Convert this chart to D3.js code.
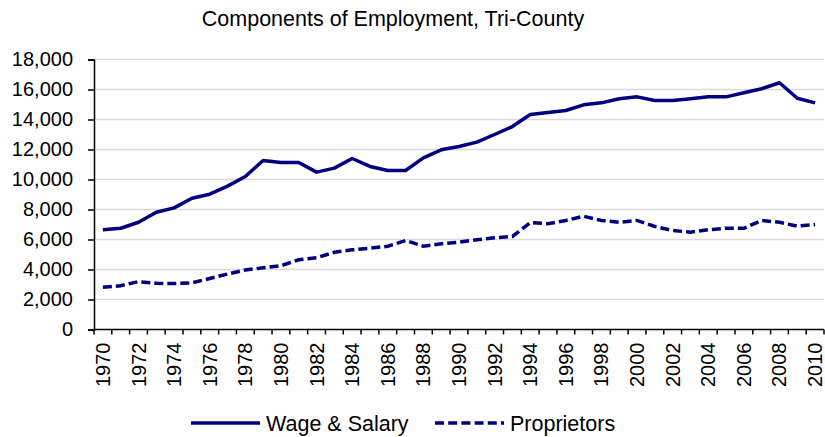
<!DOCTYPE html>
<html>
<head>
<meta charset="utf-8">
<script src="https://cdn.jsdelivr.net/npm/d3@7"></script>
<style>
  body { margin: 0; background: #fff; }
  text { font-family: "Liberation Sans", Arial, sans-serif; fill: #000; }
</style>
</head>
<body>
<svg id="chart" width="825" height="437"></svg>
<script>
// Data (thousands of jobs)
const years = d3.range(1970, 2011);
const wageSalary = [6650, 6750, 7150, 7820, 8110, 8750, 9020, 9560, 10200, 11270,
  11130, 11130, 10490, 10760, 11400, 10870, 10600, 10600, 11440, 11980,
  12200, 12490, 13000, 13530, 14330, 14470, 14600, 14980, 15110, 15380,
  15510, 15270, 15270, 15380, 15510, 15510, 15780, 16050, 16450, 15420, 15110];
const proprietors = [2810, 2920, 3190, 3080, 3060, 3110, 3400, 3700, 3970, 4110,
  4250, 4650, 4780, 5150, 5310, 5420, 5550, 5930, 5550, 5710,
  5820, 5980, 6110, 6200, 7130, 7050, 7270, 7550, 7270, 7150,
  7270, 6870, 6600, 6490, 6650, 6750, 6750, 7270, 7150, 6890, 7000];
const yTicks = d3.range(0, 18001, 2000);
const seriesNames = ["Wage & Salary", "Proprietors"];

const navy = "#000080";
const svg = d3.select("#chart");

// Plot area
const plot = { left: 94, right: 824, top: 59.5, bottom: 329.5 };

const x = d3.scaleBand().domain(years).range([plot.left, plot.right]).padding(0);
const y = d3.scaleLinear().domain([0, 18000]).range([plot.bottom, plot.top]);

// Title
svg.append("text")
  .attr("x", 393)
  .attr("y", 26)
  .attr("text-anchor", "middle")
  .style("font-size", "21.5px")
  .text("Components of Employment, Tri-County");

// Gridlines
svg.append("g")
  .selectAll("line")
  .data(yTicks.filter(d => d > 0))
  .enter()
  .append("line")
  .attr("x1", plot.left)
  .attr("x2", plot.right)
  .attr("y1", d => y(d))
  .attr("y2", d => y(d))
  .attr("stroke", "#d9d9d9")
  .attr("stroke-width", 1.5);

// Y axis
const yAxis = svg.append("g")
  .attr("transform", `translate(${plot.left},0)`)
  .call(d3.axisLeft(y).tickValues(yTicks).tickSize(6).tickPadding(15)
    .tickFormat(d3.format(",")));
yAxis.selectAll("path, line").attr("stroke", "#000").attr("stroke-width", 1.5);
yAxis.selectAll("text").style("font-size", "20px").attr("fill", "#000");

// X axis: labels every other year at band centers
const xAxis = svg.append("g")
  .attr("transform", `translate(0,${plot.bottom})`)
  .call(d3.axisBottom(x).tickSize(0)
    .tickFormat(d => d % 2 === 0 ? d : ""));
xAxis.select("path").attr("stroke", "#000").attr("stroke-width", 1.5)
  .attr("d", `M${plot.left},0H${plot.right}`);
xAxis.selectAll("text")
  .style("font-size", "20px")
  .attr("fill", "#000")
  .attr("transform", "rotate(-90)")
  .attr("text-anchor", "end")
  .attr("x", -13)
  .attr("y", 0)
  .attr("dy", "0.35em");

// Tick marks at category boundaries
svg.append("g")
  .selectAll("line")
  .data(years.concat([2011]))
  .enter()
  .append("line")
  .attr("x1", d => d === 2011 ? plot.right : x(d))
  .attr("x2", d => d === 2011 ? plot.right : x(d))
  .attr("y1", plot.bottom)
  .attr("y2", plot.bottom + 5)
  .attr("stroke", "#000")
  .attr("stroke-width", 1.5);

// Lines
const line = d3.line()
  .x((d, i) => x(years[i]) + x.bandwidth() / 2)
  .y(d => y(d));

svg.append("path")
  .datum(wageSalary)
  .attr("fill", "none")
  .attr("stroke", navy)
  .attr("stroke-width", 3.5)
  .attr("stroke-linejoin", "round")
  .attr("d", line);

svg.append("path")
  .datum(proprietors)
  .attr("fill", "none")
  .attr("stroke", navy)
  .attr("stroke-width", 3.5)
  .attr("stroke-dasharray", "9,4")
  .attr("d", line);

// Legend
const legend = svg.append("g");
const legendItems = [
  { name: seriesNames[0], x: 191, dash: null },
  { name: seriesNames[1], x: 435, dash: "9,4.2" }
];
legendItems.forEach(item => {
  legend.append("line")
    .attr("x1", item.x)
    .attr("x2", item.x + 69)
    .attr("y1", 423)
    .attr("y2", 423)
    .attr("stroke", navy)
    .attr("stroke-width", 3.5)
    .attr("stroke-dasharray", item.dash);
  legend.append("text")
    .attr("x", item.x + 75)
    .attr("y", 423)
    .attr("dy", "0.35em")
    .style("font-size", "21.5px")
    .text(item.name);
});
</script>
</body>
</html>
